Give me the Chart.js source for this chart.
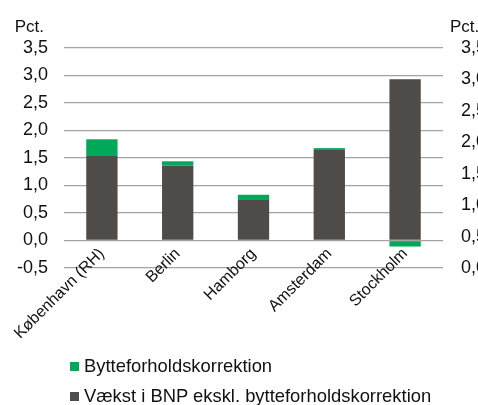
<!DOCTYPE html>
<html>
<head>
<meta charset="utf-8">
<script src="https://cdn.jsdelivr.net/npm/chart.js"></script>
<style>
  html, body { margin: 0; padding: 0; background: #fff; }
  #wrap { position: relative; width: 478px; height: 405px; overflow: hidden; }
  #legend { position: absolute; left: 70px; top: 351px; font: 18.4px "Liberation Sans", Arial, sans-serif; color: #111; }
  .leg-row { display: flex; align-items: center; height: 30px; white-space: nowrap; }
  .leg-box { width: 9px; height: 9px; margin-right: 5px; }
</style>
</head>
<body>
<div id="wrap">
  <canvas id="chart" width="478" height="405"></canvas>
  <div id="legend"></div>
</div>
<script>
// Data
const categories = ['København (RH)', 'Berlin', 'Hamborg', 'Amsterdam', 'Stockholm'];
const vaekst = [1.55, 1.36, 0.75, 1.66, 2.93];   // Vækst i BNP ekskl. bytteforholdskorrektion
const bytte = [0.29, 0.08, 0.08, 0.02, -0.11];   // Bytteforholdskorrektion
const leftTicks = [-0.5, 0, 0.5, 1, 1.5, 2, 2.5, 3, 3.5];
const rightTicks = [0, 0.5, 1, 1.5, 2, 2.5, 3, 3.5];

const FONT = '"Liberation Sans", Arial, sans-serif';
const TEXT = '#111';
const GREEN = '#00a859';
const GREY = '#4e4b48';

const fmt = v => v.toFixed(1).replace('.', ',');

// "Pct." above both value axes
const unitLabels = {
  id: 'unitLabels',
  afterDraw(chart) {
    const { ctx, chartArea } = chart;
    ctx.save();
    ctx.font = '17px ' + FONT;
    ctx.fillStyle = TEXT;
    ctx.textBaseline = 'middle';
    ctx.textAlign = 'right';
    ctx.fillText('Pct.', chartArea.left - 20, chartArea.top - 21);
    ctx.textAlign = 'left';
    ctx.fillText('Pct.', chartArea.right + 7, chartArea.top - 21);
    ctx.restore();
  }
};

const chart = new Chart(document.getElementById('chart'), {
  type: 'bar',
  data: {
    labels: categories,
    datasets: [{
      label: 'Vækst i BNP ekskl. bytteforholdskorrektion',
      data: vaekst,
      backgroundColor: GREY,
      stack: 's'
    }, {
      label: 'Bytteforholdskorrektion',
      data: bytte,
      backgroundColor: GREEN,
      stack: 's'
    }]
  },
  options: {
    responsive: false,
    animation: false,
    events: [],
    layout: { padding: { top: 48, bottom: 137, left: 0, right: 0 } },
    datasets: { bar: { categoryPercentage: 1, barPercentage: 0.413 } },
    plugins: { legend: { display: false }, tooltip: { enabled: false } },
    scales: {
      x: {
        stacked: true,
        position: { y: 0 },
        grid: { display: false, drawTicks: false },
        border: { display: false },
        ticks: {
          color: TEXT,
          font: { family: FONT, size: 16 },
          minRotation: 45,
          maxRotation: 45,
          padding: 4,
          autoSkip: false
        }
      },
      y: {
        stacked: true,
        position: 'left',
        min: leftTicks[0],
        max: leftTicks[leftTicks.length - 1],
        afterBuildTicks: s => { s.ticks = leftTicks.map(v => ({ value: v })); },
        afterFit: s => { s.width = 64; },
        grid: { color: '#a3a3a3', lineWidth: 1.3, drawTicks: false },
        border: { display: false },
        ticks: {
          color: TEXT,
          font: { family: FONT, size: 18 },
          padding: 16,
          callback: v => fmt(v)
        }
      },
      y2: {
        position: 'right',
        min: rightTicks[0],
        max: rightTicks[rightTicks.length - 1],
        afterBuildTicks: s => { s.ticks = rightTicks.map(v => ({ value: v })); },
        afterFit: s => { s.width = 35; },
        grid: { display: false, drawTicks: false },
        border: { display: false },
        ticks: {
          color: TEXT,
          font: { family: FONT, size: 18 },
          padding: 18,
          callback: v => fmt(v)
        }
      }
    }
  },
  plugins: [unitLabels]
});

// Legend: green first, then grey, left aligned rows
const legend = document.getElementById('legend');
[1, 0].forEach(i => {
  const ds = chart.data.datasets[i];
  const row = document.createElement('div');
  row.className = 'leg-row';
  row.innerHTML = `<span class="leg-box" style="background:${ds.backgroundColor}"></span><span>${ds.label}</span>`;
  legend.appendChild(row);
});
</script>
</body>
</html>
